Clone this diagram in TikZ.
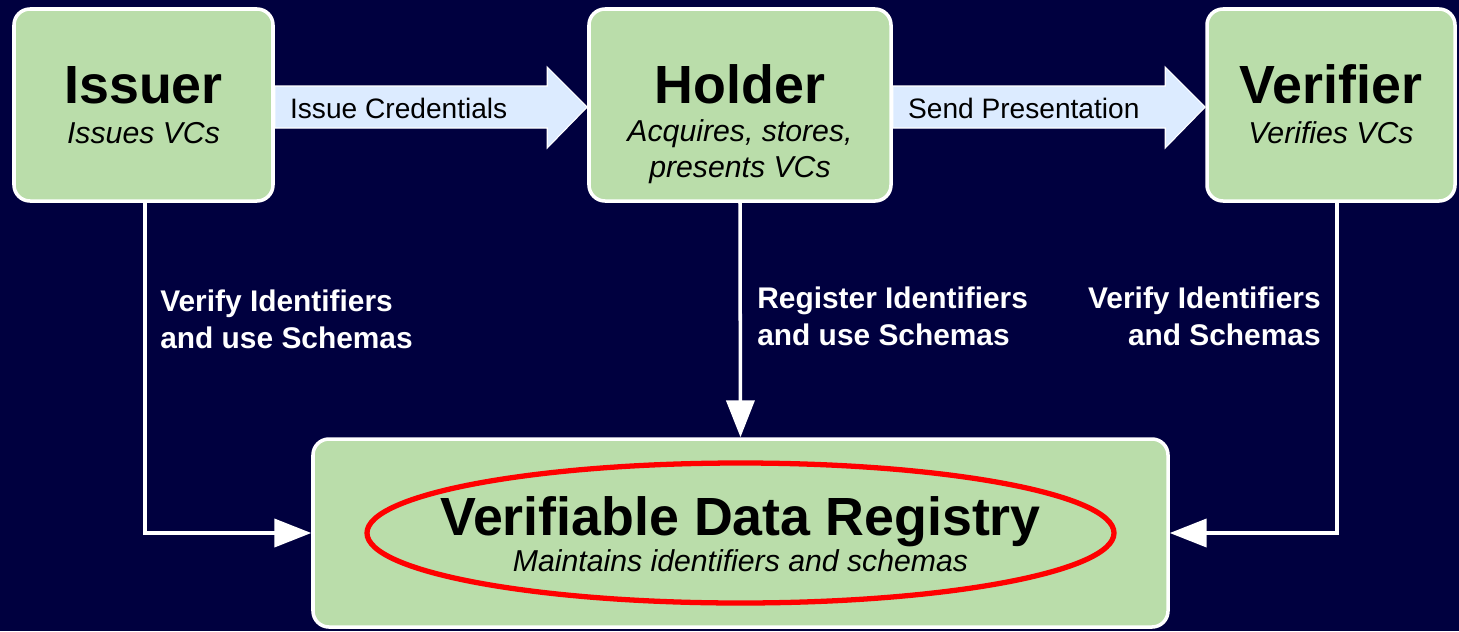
\documentclass[tikz,border=0pt]{standalone}
\usepackage{fontspec}
\setmainfont{Liberation Sans}
\usepackage{xcolor}
\usepackage{tikz}
\usetikzlibrary{arrows.meta,calc}
\usetikzlibrary{positioning}
\definecolor{bgnavy}{HTML}{00003F}
\definecolor{boxgreen}{HTML}{BADDAA}
\definecolor{flowblue}{HTML}{DCEBFF}
\definecolor{ringred}{HTML}{FF0000}
\tikzset{
	role/.style={draw=white, line width=2pt, fill=boxgreen, rounded corners=0.32cm, inner sep=0pt},
	roletitle/.style={font=\fontsize{30.6}{36}\selectfont\bfseries, inner sep=0pt, anchor=base},
	rolenote/.style={font=\fontsize{17.2}{20}\selectfont\itshape, inner sep=0pt, anchor=base, align=center},
	flow/.style={draw=white, line width=0.6pt, fill=flowblue},
	flowtext/.style={font=\fontsize{16}{19}\selectfont, inner sep=0pt, anchor=base west},
	link/.style={draw=white, line width=2pt, -{Triangle[length=21pt,width=16pt]}},
	linktext/.style={text=white, font=\fontsize{17}{21}\selectfont\bfseries, inner sep=0pt}
}

\begin{document}
\begin{tikzpicture}[x=0.2mm, y=-0.2mm]

  \fill[bgnavy] (0,0) rectangle (1459,631);

  % roles
  \node[role, minimum width=5.18cm, minimum height=3.84cm] (issuer) at (143.5,105) {};
  \node[role, minimum width=6.04cm, minimum height=3.84cm] (holder) at (740,105) {};
  \node[role, minimum width=4.96cm, minimum height=3.84cm] (verifier) at (1331,105) {};
  \node[role, minimum width=17.1cm, minimum height=3.76cm] (registry) at (740.5,533) {};

  \node[roletitle] (issuertitle) at (143.5,103) {Issuer};
  \node[rolenote] (issuernote) at (143.5,143) {Issues VCs};
  \node[roletitle] (holdertitle) at (740,103) {Holder};
  \node[rolenote] (holdernote) at (740,177) {Acquires, stores,\\presents VCs};
  \node[roletitle] (verifiertitle) at (1331,103) {Verifier};
  \node[rolenote] (verifiernote) at (1331,143) {Verifies VCs};

  \draw[ringred, line width=3pt] (registry.center) ellipse [x radius=7.47cm, y radius=1.4cm];
  \node[roletitle] (registrytitle) at (740.5,535) {Verifiable Data Registry};
  \node[rolenote] (registrynote) at (740.5,571) {Maintains identifiers and schemas};

  % big arrows
  \draw[flow] ($(issuer.east)+(0,-19)$) -- ($(holder.west)+(-40,-19)$) -- ($(holder.west)+(-40,-38)$)
    -- ($(holder.west)+(0,2)$) -- ($(holder.west)+(-40,43)$) -- ($(holder.west)+(-40,23)$)
    -- ($(issuer.east)+(0,23)$) -- cycle;
  \draw[flow] ($(holder.east)+(0,-19)$) -- ($(verifier.west)+(-40,-19)$) -- ($(verifier.west)+(-40,-38)$)
    -- ($(verifier.west)+(0,2)$) -- ($(verifier.west)+(-40,43)$) -- ($(verifier.west)+(-40,23)$)
    -- ($(holder.east)+(0,23)$) -- cycle;
  \node[flowtext] (issuetext) at ($(issuer.east)+(15,13)$) {Issue Credentials};
  \node[flowtext] (sendtext) at ($(holder.east)+(15,13)$) {Send Presentation};

  \draw[link] ($(issuer.south)+(1.5,0)$) |- (registry.west);
  \draw[link] (holder.south) -- (registry.north);
  \draw[link] ($(verifier.south)+(6,0)$) |- (registry.east);

  \node[linktext, anchor=base west, align=left] (issuerlink) at (160,348) {Verify Identifiers\\and use Schemas};
  \node[linktext, anchor=base west, align=left] (holderlink) at (757,345) {Register Identifiers\\and use Schemas};
  \node[linktext, anchor=base east, align=right] (verifierlink) at (1321,345) {Verify Identifiers\\and Schemas};

\end{tikzpicture}
\end{document}
